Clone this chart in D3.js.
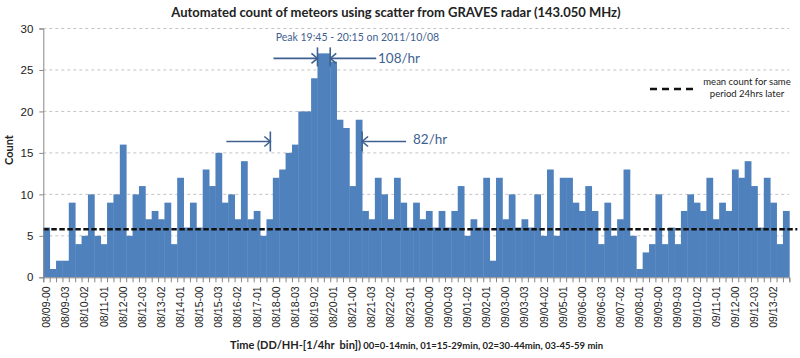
<!DOCTYPE html>
<html>
<head>
<meta charset="utf-8">
<script src="https://cdnjs.cloudflare.com/ajax/libs/d3/7.8.5/d3.min.js"></script>
<style>
  body { margin: 0; background: #fff; }
  svg { display: block; font-family: Lato, "Open Sans", sans-serif; }
</style>
</head>
<body>
<div id="chart-area"></div>
<script>
// hour labels (DD/HH) and quarter-hour bins
const hours = ["08/09", "08/10", "08/11", "08/12", "08/13", "08/14", "08/15", "08/16", "08/17", "08/18",
  "08/19", "08/20", "08/21", "08/22", "08/23", "09/00", "09/01", "09/02", "09/03", "09/04",
  "09/05", "09/06", "09/07", "09/08", "09/09", "09/10", "09/11", "09/12", "09/13", "09/14"];
const quarters = ["00", "01", "02", "03"];

// meteor counts per 1/4 hr bin
const counts = [
  6, 1, 2, 2, 9, 4, 5, 10, 5, 4,
  9, 10, 16, 5, 10, 11, 7, 8, 7, 9,
  4, 12, 6, 9, 6, 13, 11, 15, 9, 10,
  7, 14, 7, 8, 5, 7, 12, 13, 15, 16,
  20, 20, 24, 27, 27, 26, 19, 18, 11, 19,
  8, 7, 12, 10, 7, 12, 9, 6, 9, 7,
  8, 6, 8, 6, 8, 11, 5, 7, 6, 12,
  2, 12, 7, 10, 6, 7, 6, 10, 5, 13,
  5, 12, 12, 9, 8, 11, 8, 4, 9, 5,
  7, 13, 5, 1, 3, 4, 10, 4, 6, 4,
  8, 10, 9, 8, 12, 7, 9, 8, 13, 12,
  14, 11, 6, 12, 9, 4, 8
];

const meanLater = 5.8;
const yTicks = [0, 5, 10, 15, 20, 25, 30];

const categories = hours.flatMap(h => quarters.map(q => h + "-" + q)).slice(0, counts.length);
const tickLabels = categories.filter((d, i) => i % 3 === 0);

const margin = { left: 43.3, right: 10.7, top: 28.5, bottom: 80.7 },
  width = 800 - margin.left - margin.right,
  height = 358 - margin.top - margin.bottom,
  barColor = "#4F81BD",
  noteColor = "#3F6190";

const svg = d3
  .select("#chart-area")
  .append("svg")
  .attr("width", 800)
  .attr("height", 358);

const g = svg.append("g").attr("transform", "translate(" + margin.left + "," + margin.top + ")");

//x scale
const x = d3.scaleBand().domain(categories).range([0, width]).padding(0);
const xEdge = d3.scaleLinear().domain([0, categories.length]).range([0, width]);

//y scale
const y = d3.scaleLinear().domain([0, 30]).range([height, 0]);

//grid
g.selectAll(".grid")
  .data(yTicks.slice(1))
  .enter()
  .append("line")
  .attr("x1", 0)
  .attr("x2", width)
  .attr("y1", d => y(d))
  .attr("y2", d => y(d))
  .attr("stroke", "#c4c4c4")
  .attr("stroke-width", 1)
  .attr("stroke-dasharray", "3,3");

//bars
g.selectAll("rect")
  .data(counts)
  .enter()
  .append("rect")
  .attr("x", (d, i) => x(categories[i]))
  .attr("y", d => y(d))
  .attr("width", x.bandwidth() + 0.4)
  .attr("height", d => height - y(d))
  .attr("fill", barColor);

//mean line
g.append("line")
  .attr("x1", 0)
  .attr("x2", width + 8)
  .attr("y1", y(meanLater))
  .attr("y2", y(meanLater))
  .attr("stroke", "#111")
  .attr("stroke-width", 2.4)
  .attr("stroke-dasharray", "5.5,2.5");

//y axis
const yAxis = g.append("g")
  .call(d3.axisLeft(y).tickValues(yTicks).tickSize(4).tickPadding(6));
yAxis.select(".domain").attr("stroke", "#868686");
yAxis.selectAll(".tick line").attr("stroke", "#868686");
yAxis.selectAll(".tick text").style("font-size", "11.5px").attr("fill", "#222");

//x axis ticks at bin edges
const xTickAxis = g.append("g")
  .attr("transform", "translate(0," + height + ")")
  .call(d3.axisBottom(xEdge).tickValues(d3.range(categories.length + 1)).tickSize(5).tickFormat(""));
xTickAxis.select(".domain").attr("stroke", "#868686");
xTickAxis.selectAll(".tick line").attr("stroke", "#868686");

//x axis labels
const xAxis = g.append("g")
  .attr("transform", "translate(0," + height + ")")
  .call(d3.axisBottom(x).tickValues(tickLabels).tickSize(0));
xAxis.select(".domain").remove();
xAxis.selectAll(".tick text")
  .style("font-size", "10.5px")
  .attr("fill", "#222")
  .attr("text-anchor", "end")
  .attr("transform", "rotate(-90)")
  .attr("x", -9)
  .attr("y", 0)
  .attr("dy", "0.35em");

//title
svg.append("text")
  .attr("x", 396)
  .attr("y", 17)
  .attr("text-anchor", "middle")
  .style("font-size", "13px")
  .style("font-weight", "bold")
  .attr("fill", "#222")
  .text("Automated count of meteors using scatter from GRAVES radar (143.050 MHz)");

//y label
svg.append("text")
  .attr("transform", "translate(13,150) rotate(-90)")
  .attr("text-anchor", "middle")
  .style("font-size", "11px")
  .style("font-weight", "bold")
  .attr("fill", "#222")
  .text("Count");

//x label
const xl = svg.append("text")
  .attr("x", 230)
  .attr("y", 349)
  .attr("fill", "#222")
  .style("font-weight", "bold");
xl.append("tspan").style("font-size", "11px").text("Time (DD/HH-[1/4hr\u00a0 bin])");
xl.append("tspan").style("font-size", "9.5px").text(" 00=0-14min, 01=15-29min, 02=30-44min, 03-45-59 min");

//legend
const lg = svg.append("g");
lg.append("line")
  .attr("x1", 650).attr("x2", 694)
  .attr("y1", 89).attr("y2", 89)
  .attr("stroke", "#111")
  .attr("stroke-width", 2.4)
  .attr("stroke-dasharray", "7,5");
lg.append("text").attr("x", 747).attr("y", 85).attr("text-anchor", "middle")
  .style("font-size", "9.5px").attr("fill", "#222").text("mean count for same");
lg.append("text").attr("x", 747).attr("y", 97).attr("text-anchor", "middle")
  .style("font-size", "9.5px").attr("fill", "#222").text("period 24hrs later");

//annotations
const ann = g.append("g").attr("stroke", noteColor).attr("stroke-width", 1.6).attr("fill", "none");

function arrow(x1, x2, yy) {
  const dir = x2 > x1 ? -1 : 1;
  ann.append("line").attr("x1", x1).attr("x2", x2).attr("y1", yy).attr("y2", yy);
  ann.append("path").attr("d", "M" + (x2 + dir * 6) + "," + (yy - 5) + "L" + x2 + "," + yy + "L" + (x2 + dir * 6) + "," + (yy + 5));
}
function bar(xx, y1, y2) {
  ann.append("line").attr("x1", xx).attr("x2", xx).attr("y1", y1).attr("y2", y2);
}

const pkL = x(categories[43]), pkR = x(categories[44]) + x.bandwidth();
const pY = y(27) + 5;
arrow(pkL - 44, pkL, pY);
bar(pkL, pY - 11, pY + 8);
arrow(pkR + 46, pkR, pY);
bar(pkR, pY - 11, pY + 8);

const wL = x(categories[36]) - 2.5, wR = x(categories[50]);
const wY = 113;
arrow(wL - 44, wL, wY);
bar(wL, wY - 10, wY + 10);
arrow(wR + 44, wR, wY);
bar(wR, wY - 10, wY + 10);

g.append("text").attr("x", 275.7 - margin.left).attr("y", 41 - margin.top)
  .style("font-size", "10.5px").attr("fill", noteColor).text("Peak 19:45 - 20:15 on 2011/10/08");
g.append("text").attr("x", 378 - margin.left).attr("y", 63 - margin.top)
  .style("font-size", "13.5px").attr("fill", noteColor).text("108/hr");
g.append("text").attr("x", 413 - margin.left).attr("y", 144 - margin.top)
  .style("font-size", "13.5px").attr("fill", noteColor).text("82/hr");
</script>
</body>
</html>
